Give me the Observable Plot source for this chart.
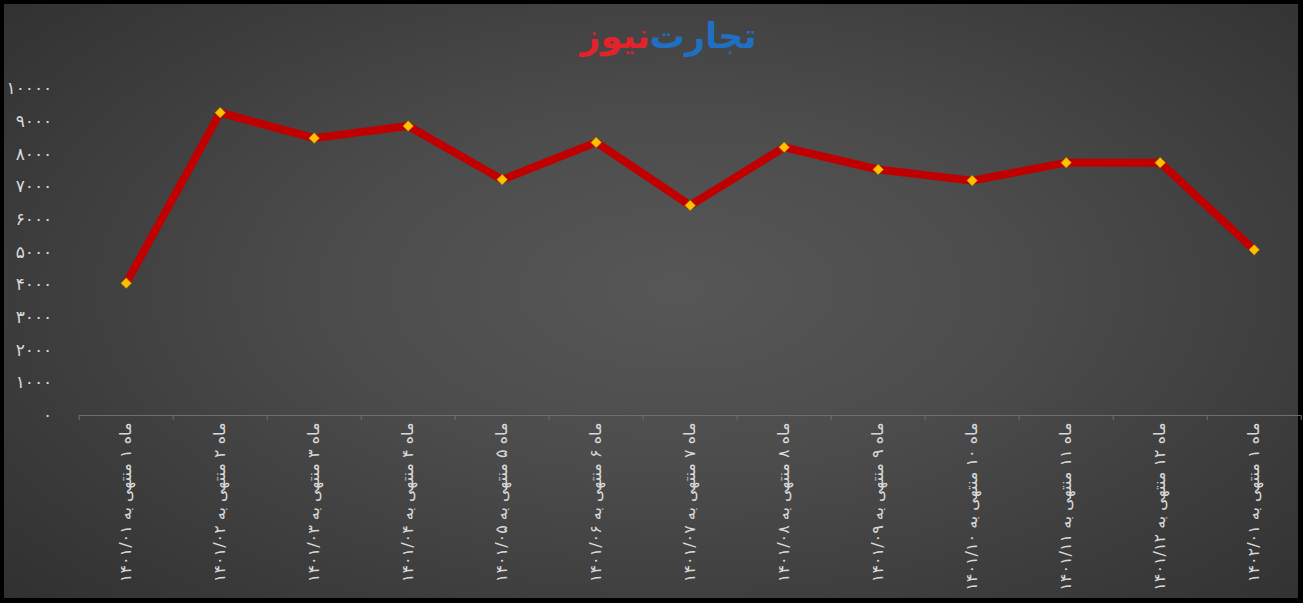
<!DOCTYPE html>
<html><head><meta charset="utf-8">
<script src="https://cdn.jsdelivr.net/npm/d3@7"></script>
<script src="https://cdn.jsdelivr.net/npm/@observablehq/plot@0.6"></script>
<style>
html,body{margin:0;padding:0;background:#000;width:1303px;height:603px;overflow:hidden;}
#frame{position:absolute;left:4px;top:4px;width:1294px;height:594px;
  background:radial-gradient(ellipse 75% 85% at 52% 48%, #575757 0%, #4c4c4c 35%, #3b3b3b 70%, #2d2d2d 100%);}
#title{position:absolute;left:17px;width:1303px;top:13px;text-align:center;direction:rtl;
  font:bold 35px "DejaVu Sans", sans-serif;line-height:46px;}
#title .b{color:#1f6fc2;} #title .r{color:#e3222c;}
#chart{position:absolute;left:0;top:60px;}
</style></head>
<body>
<div id="frame"></div>
<div id="title"><span class="b">تجارت&#x200C;</span><span class="r">نیوز</span></div>
<div id="chart"></div>
<script>
const categories = [
  "ماه ۱ منتهی به ۱۴۰۱/۰۱",
  "ماه ۲ منتهی به ۱۴۰۱/۰۲",
  "ماه ۳ منتهی به ۱۴۰۱/۰۳",
  "ماه ۴ منتهی به ۱۴۰۱/۰۴",
  "ماه ۵ منتهی به ۱۴۰۱/۰۵",
  "ماه ۶ منتهی به ۱۴۰۱/۰۶",
  "ماه ۷ منتهی به ۱۴۰۱/۰۷",
  "ماه ۸ منتهی به ۱۴۰۱/۰۸",
  "ماه ۹ منتهی به ۱۴۰۱/۰۹",
  "ماه ۱۰ منتهی به ۱۴۰۱/۱۰",
  "ماه ۱۱ منتهی به ۱۴۰۱/۱۱",
  "ماه ۱۲ منتهی به ۱۴۰۱/۱۲",
  "ماه ۱ منتهی به ۱۴۰۲/۰۱"
];
const values = [4050, 9270, 8490, 8860, 7220, 8360, 6430, 8210, 7530, 7190, 7740, 7740, 5070];
const yTicks = [0, 1000, 2000, 3000, 4000, 5000, 6000, 7000, 8000, 9000, 10000];
const yTickLabels = ["۰", "۱۰۰۰", "۲۰۰۰", "۳۰۰۰", "۴۰۰۰", "۵۰۰۰", "۶۰۰۰", "۷۰۰۰", "۸۰۰۰", "۹۰۰۰", "۱۰۰۰۰"];

const data = categories.map((c, k) => ({i: k + 1, cat: c, v: values[k]}));
const centers = data.map(d => d.i);
const bounds = [0.5, ...centers.map(c => c + 0.5)];

const chart = Plot.plot({
  width: 1303,
  height: 543,
  marginLeft: 78.7,
  marginRight: 2.3,
  marginTop: 28.3,
  marginBottom: 188,
  style: {background: "transparent", color: "#d9d9d9", fontFamily: "'DejaVu Sans', sans-serif"},
  x: {domain: [0.5, categories.length + 0.5]},
  y: {domain: [0, 10000]},
  marks: [
    Plot.axisY({ticks: yTicks, tickFormat: d => yTickLabels[yTicks.indexOf(d)], tickSize: 0, tickPadding: 27, fontSize: 17, label: null}),
    Plot.axisX({ticks: centers, tickFormat: d => categories[d - 1], tickSize: 0, tickPadding: 7, tickRotate: -90, fontSize: 16, label: null}),
    Plot.axisX({ticks: bounds, tickFormat: () => null, tickSize: 5, stroke: "#6e6e6e", label: null}),
    Plot.ruleY([0], {stroke: "#6e6e6e", strokeWidth: 1}),
    Plot.line(data, {x: "i", y: "v", stroke: "#c00000", strokeWidth: 8, strokeLinejoin: "round",
      style: "filter: drop-shadow(1px 2px 2px rgba(0,0,0,0.55))"}),
    Plot.dot(data, {x: "i", y: "v", symbol: "diamond2", r: 4.8, fill: "#ffc000", stroke: "#a07000", strokeWidth: 0.6})
  ]
});
document.getElementById("chart").appendChild(chart);
</script>
</body></html>
